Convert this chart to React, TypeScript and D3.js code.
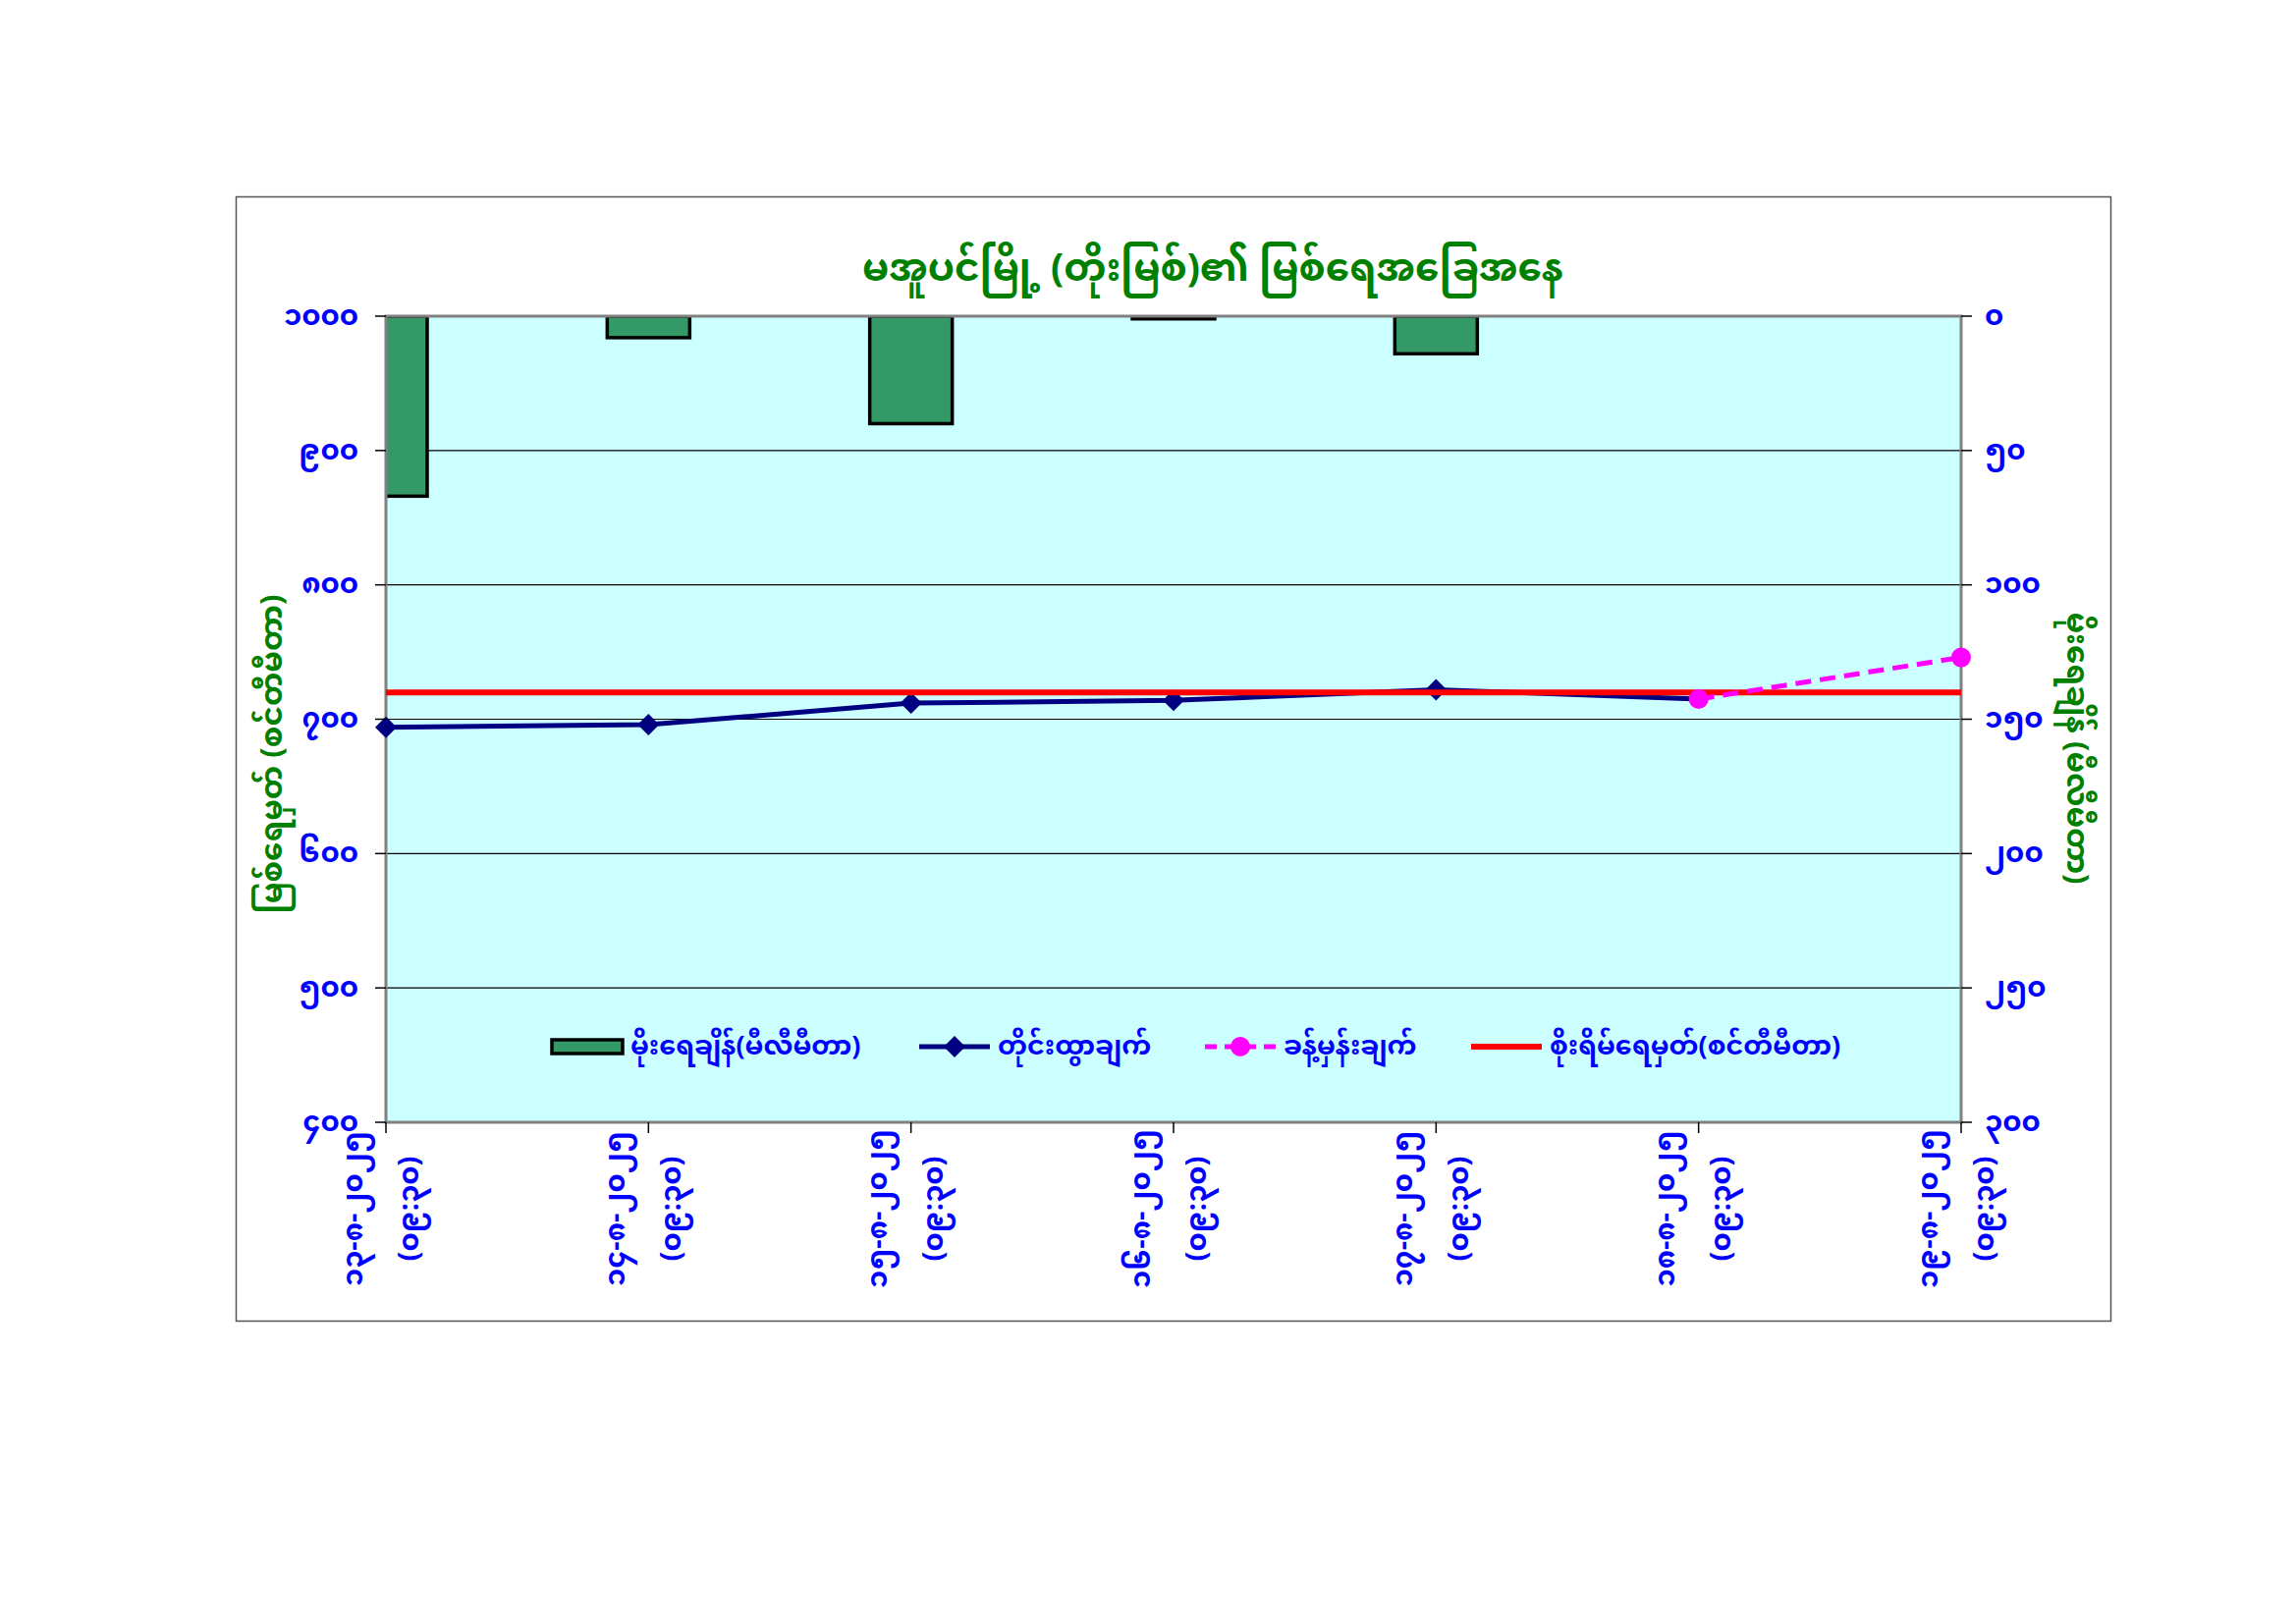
import { useEffect, useRef } from 'react';
import * as d3 from 'd3';

// x categories (observation dates, 09:30 each day)
const dateLabels = ['၁၃-၈-၂၀၂၅', '၁၄-၈-၂၀၂၅', '၁၅-၈-၂၀၂၅', '၁၆-၈-၂၀၂၅', '၁၇-၈-၂၀၂၅', '၁၈-၈-၂၀၂၅', '၁၉-၈-၂၀၂၅'];
const timeLabel = '(၀၉:၃၀)';

// rainfall (mm), right axis, reversed
const rainfall = [67, 8, 40, 1, 14, 0, 0];
// observed water level (cm)
const observed: (number | null)[] = [694, 696, 712, 714, 722, 715, null];
// forecast water level (cm)
const forecast: (number | null)[] = [null, null, null, null, null, 715, 746];
// danger level (cm)
const dangerLevel = 720;

const leftTicks = [400, 500, 600, 700, 800, 900, 1000];
const rightTicks = [0, 50, 100, 150, 200, 250, 300];

const titleText = 'မအူပင်မြို့ (တိုးမြစ်)၏ မြစ်ရေအခြေအနေ';
const leftTitle = 'မြစ်ရေမှတ် (စင်တီမီတာ)';
const rightTitle = 'မိုးရေချိန် (မီလီမီတာ)';
const legendLabels = ['မိုးရေချိန်(မီလီမီတာ)', 'တိုင်းထွာချက်', 'ခန့်မှန်းချက်', 'စိုးရိမ်ရေမှတ်(စင်တီမီတာ)'];

const W = 2338;
const H = 1654;
const FONT = '"Noto Sans Myanmar", "Noto Sans Myanmar UI", Padauk, "Myanmar Text", "Noto Sans", sans-serif';

const toMy = (n: number) => String(n).replace(/[0-9]/g, (d) => String.fromCharCode(0x1040 + +d));

// square-ish diamond like Excel's marker
const diamondPath = (r: number) => `M0,${-r}L${r},0L0,${r}L${-r},0Z`;

const App = () => {
  const svgRef = useRef<SVGSVGElement>(null);

  useEffect(() => {
    if (!svgRef.current) return;
    const svg = d3.select(svgRef.current);
    svg.selectAll('*').remove();
    svg.style('font-family', FONT);

    const left = 393;
    const right = 1997;
    const top = 322;
    const bottom = 1143;

    const x = d3.scalePoint<string>().domain(dateLabels).range([left, right]);
    const yL = d3.scaleLinear().domain([400, 1000]).range([bottom, top]);
    const yR = d3.scaleLinear().domain([0, 300]).range([top, bottom]);

    // page + chart frame
    svg.append('rect').attr('width', W).attr('height', H).attr('fill', '#ffffff');
    svg
      .append('rect')
      .attr('x', 240.5)
      .attr('y', 200.5)
      .attr('width', 1909)
      .attr('height', 1145)
      .attr('fill', 'none')
      .attr('stroke', '#555')
      .attr('stroke-width', 1.5);

    // plot area
    svg
      .append('rect')
      .attr('x', left)
      .attr('y', top)
      .attr('width', right - left)
      .attr('height', bottom - top)
      .attr('fill', '#CCFFFF');

    svg
      .append('clipPath')
      .attr('id', 'plotClip')
      .append('rect')
      .attr('x', left)
      .attr('y', top)
      .attr('width', right - left)
      .attr('height', bottom - top);

    // gridlines
    svg
      .append('g')
      .selectAll('line')
      .data(leftTicks.filter((t) => t > 400 && t < 1000))
      .enter()
      .append('line')
      .attr('x1', left)
      .attr('x2', right)
      .attr('y1', (d) => yL(d))
      .attr('y2', (d) => yL(d))
      .attr('stroke', '#000')
      .attr('stroke-width', 1.2);

    // rain bars (hang from top)
    const barW = 84;
    svg
      .append('g')
      .attr('clip-path', 'url(#plotClip)')
      .selectAll('rect')
      .data(rainfall.map((v, i) => ({ v, label: dateLabels[i] })).filter((d) => d.v > 0))
      .enter()
      .append('rect')
      .attr('x', (d) => (x(d.label) as number) - barW / 2)
      .attr('y', yR(0))
      .attr('width', barW)
      .attr('height', (d) => yR(d.v) - yR(0))
      .attr('fill', '#339966')
      .attr('stroke', '#000')
      .attr('stroke-width', 3.5);

    // plot border
    svg
      .append('rect')
      .attr('x', left)
      .attr('y', top)
      .attr('width', right - left)
      .attr('height', bottom - top)
      .attr('fill', 'none')
      .attr('stroke', '#808080')
      .attr('stroke-width', 3);

    const line = d3
      .line<{ v: number; label: string }>()
      .x((d) => x(d.label) as number)
      .y((d) => yL(d.v));

    // observed line
    const obsPts = observed
      .map((v, i) => ({ v, label: dateLabels[i] }))
      .filter((d) => d.v !== null) as { v: number; label: string }[];
    const fcPts = forecast
      .map((v, i) => ({ v, label: dateLabels[i] }))
      .filter((d) => d.v !== null) as { v: number; label: string }[];

    svg
      .append('path')
      .attr('d', line(obsPts))
      .attr('fill', 'none')
      .attr('stroke', '#000080')
      .attr('stroke-width', 5);

    svg
      .append('g')
      .selectAll('path')
      .data(obsPts.slice(0, obsPts.length - 1))
      .enter()
      .append('path')
      .attr('d', diamondPath(11))
      .attr('transform', (d) => `translate(${x(d.label)},${yL(d.v)})`)
      .attr('fill', '#000080');

    // danger level
    svg
      .append('line')
      .attr('x1', left)
      .attr('x2', right)
      .attr('y1', yL(dangerLevel))
      .attr('y2', yL(dangerLevel))
      .attr('stroke', '#FF0000')
      .attr('stroke-width', 6);

    // forecast
    svg
      .append('path')
      .attr('d', line(fcPts))
      .attr('fill', 'none')
      .attr('stroke', '#FF00FF')
      .attr('stroke-width', 5)
      .attr('stroke-dasharray', '16,9');

    svg
      .append('g')
      .selectAll('circle')
      .data(fcPts)
      .enter()
      .append('circle')
      .attr('cx', (d) => x(d.label) as number)
      .attr('cy', (d) => yL(d.v))
      .attr('r', 10)
      .attr('fill', '#FF00FF');

    // left axis
    const gl = svg.append('g');
    leftTicks.forEach((t) => {
      gl.append('line')
        .attr('x1', left - 11)
        .attr('x2', left)
        .attr('y1', yL(t))
        .attr('y2', yL(t))
        .attr('stroke', '#000')
        .attr('stroke-width', 1.5);
      gl.append('text')
        .attr('x', left - 28)
        .attr('y', yL(t))
        .attr('dy', '0.3em')
        .attr('text-anchor', 'end')
        .attr('font-size', 29)
        .attr('font-weight', 700)
        .attr('fill', '#0000FF')
        .text(toMy(t));
    });

    // right axis
    const gr = svg.append('g');
    rightTicks.forEach((t) => {
      gr.append('line')
        .attr('x1', right)
        .attr('x2', right + 11)
        .attr('y1', yR(t))
        .attr('y2', yR(t))
        .attr('stroke', '#000')
        .attr('stroke-width', 1.5);
      gr.append('text')
        .attr('x', right + 24)
        .attr('y', yR(t))
        .attr('dy', '0.3em')
        .attr('text-anchor', 'start')
        .attr('font-size', 29)
        .attr('font-weight', 700)
        .attr('fill', '#0000FF')
        .text(toMy(t));
    });

    // x axis ticks + rotated labels
    const gx = svg.append('g');
    dateLabels.forEach((lab) => {
      const px = x(lab) as number;
      gx.append('line')
        .attr('x1', px)
        .attr('x2', px)
        .attr('y1', bottom)
        .attr('y2', bottom + 11)
        .attr('stroke', '#000')
        .attr('stroke-width', 1.5);
      const g = gx.append('g').attr('transform', `translate(${px},1231) rotate(-90)`);
      g.append('text')
        .attr('x', 0)
        .attr('y', -31)
        .attr('dominant-baseline', 'central')
        .attr('text-anchor', 'middle')
        .attr('font-size', 29)
        .attr('font-weight', 700)
        .attr('fill', '#0000FF')
        .text(lab);
      g.append('text')
        .attr('x', 0)
        .attr('y', 26)
        .attr('dominant-baseline', 'central')
        .attr('text-anchor', 'middle')
        .attr('font-size', 29)
        .attr('font-weight', 700)
        .attr('fill', '#0000FF')
        .text(timeLabel);
    });

    // title
    svg
      .append('text')
      .attr('x', 1235)
      .attr('y', 286)
      .attr('text-anchor', 'middle')
      .attr('font-size', 39)
      .attr('font-weight', 700)
      .attr('fill', '#008000')
      .text(titleText);

    // axis titles
    svg
      .append('text')
      .attr('transform', `translate(280,768) rotate(-90)`)
      .attr('text-anchor', 'middle')
      .attr('dominant-baseline', 'central')
      .attr('font-size', 31)
      .attr('font-weight', 700)
      .attr('fill', '#008000')
      .text(leftTitle);
    svg
      .append('text')
      .attr('transform', `translate(2112,762) rotate(90)`)
      .attr('text-anchor', 'middle')
      .attr('dominant-baseline', 'central')
      .attr('font-size', 31)
      .attr('font-weight', 700)
      .attr('fill', '#008000')
      .text(rightTitle);

    // legend
    const ly = 1066;
    const lg = svg.append('g');
    const itemX = [562, 936, 1227, 1498];
    lg.append('rect')
      .attr('x', itemX[0])
      .attr('y', ly - 7)
      .attr('width', 72)
      .attr('height', 14)
      .attr('fill', '#339966')
      .attr('stroke', '#000')
      .attr('stroke-width', 3.5);
    lg.append('line')
      .attr('x1', itemX[1])
      .attr('x2', itemX[1] + 72)
      .attr('y1', ly)
      .attr('y2', ly)
      .attr('stroke', '#000080')
      .attr('stroke-width', 5);
    lg.append('path')
      .attr('d', diamondPath(11))
      .attr('transform', `translate(${itemX[1] + 36},${ly})`)
      .attr('fill', '#000080');
    lg.append('line')
      .attr('x1', itemX[2])
      .attr('x2', itemX[2] + 72)
      .attr('y1', ly)
      .attr('y2', ly)
      .attr('stroke', '#FF00FF')
      .attr('stroke-width', 5)
      .attr('stroke-dasharray', '12,8');
    lg.append('circle').attr('cx', itemX[2] + 36).attr('cy', ly).attr('r', 10).attr('fill', '#FF00FF');
    lg.append('line')
      .attr('x1', itemX[3])
      .attr('x2', itemX[3] + 72)
      .attr('y1', ly)
      .attr('y2', ly)
      .attr('stroke', '#FF0000')
      .attr('stroke-width', 6);
    legendLabels.forEach((t, i) => {
      lg.append('text')
        .attr('x', itemX[i] + 80)
        .attr('y', ly)
        .attr('dy', '0.3em')
        .attr('font-size', 27)
        .attr('font-weight', 700)
        .attr('fill', '#0000FF')
        .text(t);
    });
  }, []);

  return (
    <div style={{ position: 'absolute', left: 0, top: 0 }}>
      <svg ref={svgRef} width={W} height={H} viewBox={`0 0 ${W} ${H}`} style={{ display: 'block' }} />
    </div>
  );
};

export default App;
